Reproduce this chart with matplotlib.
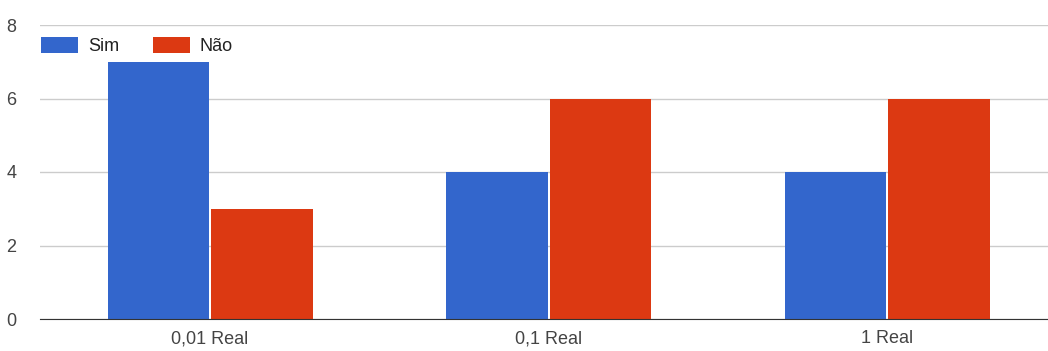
import matplotlib.pyplot as plt
import numpy as np

plt.rcParams['font.family'] = ['Liberation Sans', 'DejaVu Sans']

categorias = ["0,01 Real", "0,1 Real", "1 Real"]
sim = [7, 4, 4]
nao = [3, 6, 6]

fig = plt.figure(figsize=(10.48, 3.51), dpi=100)
ax = fig.add_axes([40 / 1048, 32 / 351, 1008 / 1048, 294 / 351])

x = np.arange(len(categorias))
w = 0.30
ax.bar(x - 0.152, sim, w, color="#3366cc", label="Sim", zorder=3)
ax.bar(x + 0.154, nao, w, color="#dc3912", label="Não", zorder=3)

ax.set_xlim(-0.502, 2.476)
ax.set_ylim(0, 8)
ax.set_yticks([0, 2, 4, 6, 8])
ax.set_xticks(x)
ax.set_xticklabels(categorias)
ax.tick_params(length=0, labelsize=13, colors="#444444")
ax.tick_params(axis="y", pad=17)
ax.tick_params(axis="x", pad=8)
ax.grid(axis="y", color="#cccccc", linewidth=1, zorder=0)
for s in ["top", "right", "left"]:
    ax.spines[s].set_visible(False)
ax.spines["bottom"].set_color("#333333")
ax.spines["bottom"].set_zorder(4)

ax.legend(loc="upper left", bbox_to_anchor=(-0.006, 0.985), ncol=2, frameon=False,
          fontsize=13, handlelength=2.05, handleheight=1.0, columnspacing=1.85,
          handletextpad=0.55, borderaxespad=0, labelcolor="#222222")

fig.savefig("out.png", dpi=100)
